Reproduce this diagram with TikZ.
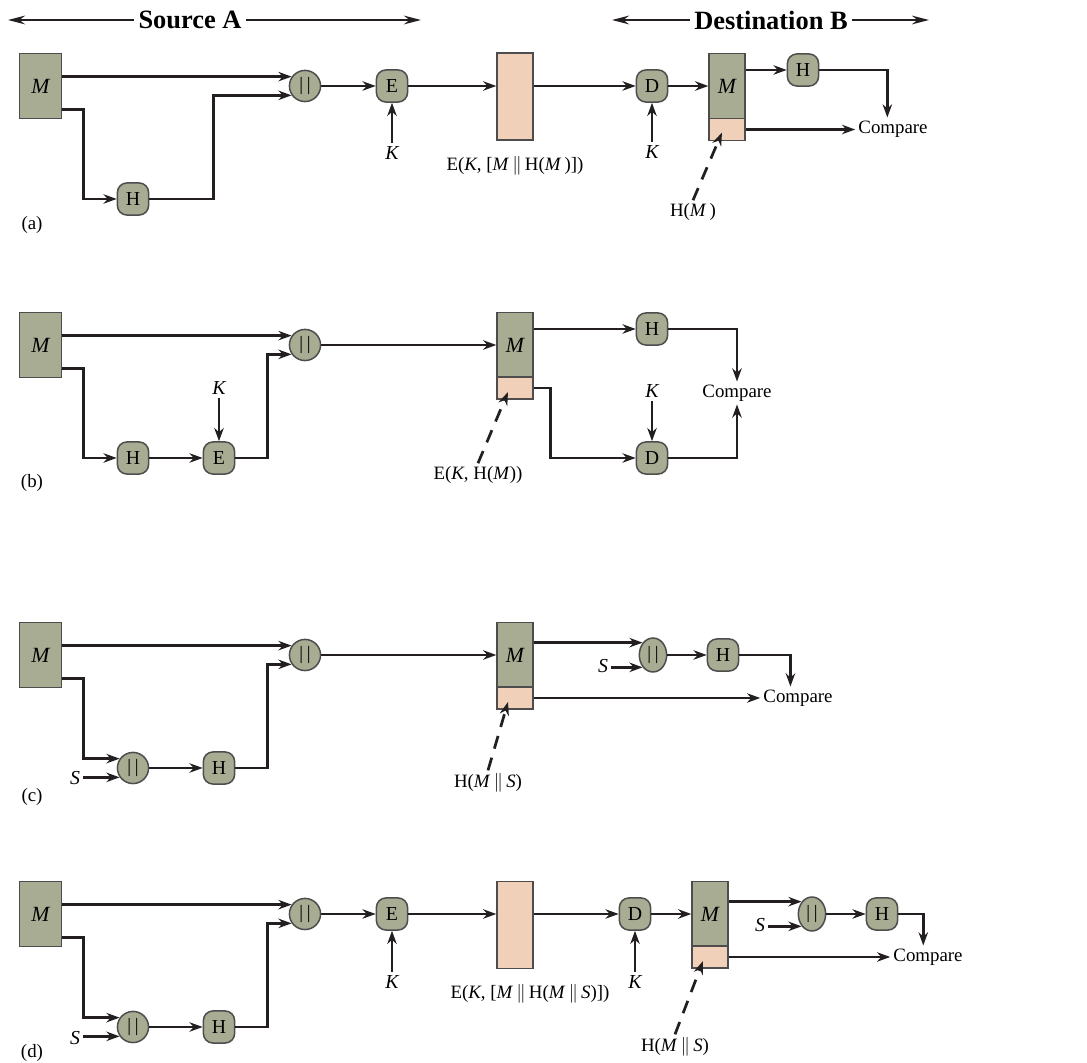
\documentclass[tikz,border=0pt]{standalone}
\usepackage{fontspec}
\setmainfont{Liberation Serif}
\usetikzlibrary{arrows.meta, shapes.geometric}
\definecolor{boxgreen}{RGB}{167,172,146}
\definecolor{peach}{RGB}{240,208,184}
\definecolor{ink}{RGB}{35,31,32}

\begin{document}
\begin{tikzpicture}[x=0.53pt, y=-0.53pt,
    arr/.style={draw=ink, line width=1.45pt, -{Stealth[length=7pt, width=5pt]}},
    dsh/.style={arr, dash pattern=on 7pt off 5pt},
    ttlarr/.style={draw=ink, line width=1.3pt, -{Stealth[length=9pt, width=4.6pt]}},
    ttl/.style={font=\fontsize{14}{16}\selectfont\bfseries, inner sep=2pt},
    lbl/.style={font=\fontsize{10}{12}\selectfont, inner sep=1.5pt},
    lbli/.style={lbl, font=\fontsize{10.5}{12}\selectfont\itshape},
    msg/.style={draw=ink!80, line width=0.8pt, fill=boxgreen, minimum width=22.5pt,
                minimum height=34.5pt, inner sep=0pt, font=\fontsize{11.5}{12}\selectfont\itshape},
    msgB/.style={msg, minimum width=19pt},
    tagB/.style={draw=ink!80, line width=0.8pt, fill=peach, minimum width=19pt,
                 minimum height=11.7pt, inner sep=0pt},
    cipher/.style={tagB, minimum height=46pt},
    fn/.style={draw=ink!80, line width=0.8pt, fill=boxgreen, rounded corners=5pt,
               minimum width=16.5pt, minimum height=17pt, inner sep=0pt,
               font=\fontsize{10.5}{12}\selectfont},
    cat/.style={circle, draw=ink!80, line width=0.8pt, fill=boxgreen, minimum size=16.5pt,
                inner sep=0pt, font=\fontsize{10}{12}\selectfont},
    catB/.style={cat, ellipse, minimum width=14.5pt, minimum height=18pt}]
\useasboundingbox (0,0) rectangle (1087,1063);

% headings
\coordinate (srcL) at (8,20);
\coordinate (srcR) at (421,20);
\coordinate (dstL) at (612,20);
\coordinate (dstR) at (929,20);
\node[ttl] (src) at (190,20) {Source A};
\node[ttl] (dst) at (771,20) {Destination B};
\draw[ttlarr] (src.west) -- (srcL);
\draw[ttlarr] (src.east) -- (srcR);
\draw[ttlarr] (dst.west) -- (dstL);
\draw[ttlarr] (dst.east) -- (dstR);

% (a)
\node[msg] (Ma) at (40.5,86) {M};
\node[cat] (catA) at (305,86) {|\kern2pt|};
\node[fn] (Ha) at (133,199) {H};
\node[fn] (Ea) at (392,86) {E};
\node[lbli] (Ka) at (392,153) {K};
\node[cipher] (Ca) at (515,96.5) {};
\node[lbl] (ECa) at (515,166) {E(\textit{K}, [\textit{M}\,$\|$\,H(\textit{M}\,)])};
\node[fn] (Da) at (652,86) {D};
\node[lbli] (KDa) at (652,152) {K};
\node[msgB] (MBa) at (727,86) {M};
\node[tagB] (TBa) at (727,129.5) {};
\node[fn] (HBa) at (803,70) {H};
\node[lbl] (cmpA) at (893,129) {Compare};
\node[lbl] (HMa) at (693,212) {H(\textit{M}\,)};
\node[lbl] (pa) at (32,225) {(a)};

\draw[arr] (catA.145 -| Ma.east) -- (catA.145);
\draw[arr] ([yshift=5.3pt]Ma.south east) -- ++(21,0) |- (Ha.west);
\draw[arr] (Ha.east) -- ++(64,0) |- (catA.215);
\draw[arr] (catA.east) -- (Ea.west);
\draw[arr] (Ka.north) -- (Ea.south);
\draw[arr] (Ea.east) -- (Ea.east -| Ca.west);
\draw[arr] (Da.west -| Ca.east) -- (Da.west);
\draw[arr] (KDa.north) -- (Da.south);
\draw[arr] (Da.east) -- (MBa.west);
\draw[arr] (HBa.west -| MBa.east) -- (HBa.west);
\draw[arr] (HBa.east) -| ([xshift=-3pt]cmpA.north);
\draw[arr] (TBa.east) -- (TBa.east -| cmpA.west);
\draw[dsh] (HMa.north) -- ([shift={(-5,3)}]TBa.center);

% (b)
\node[msg] (Mb) at (40.5,345) {M};
\node[cat] (catb) at (305,345) {|\kern2pt|};
\node[fn] (Hb) at (133,458) {H};
\node[fn] (Eb) at (219,458) {E};
\node[lbli] (Kb) at (219,388) {K};
\node[msgB] (MBb) at (515,345) {M};
\node[tagB] (TBb) at (515,388) {};
\node[fn] (HBb) at (652,329) {H};
\node[fn] (Db) at (652,458) {D};
\node[lbli] (KDb) at (652,391) {K};
\node[lbl] (cmpb) at (737,393) {Compare};
\node[lbl] (EHb) at (478,475) {E(\textit{K}, H(\textit{M}))};
\node[lbl] (pb) at (32,483) {(b)};

\draw[arr] (catb.145 -| Mb.east) -- (catb.145);
\draw[arr] ([yshift=5.3pt]Mb.south east) -- ++(21,0) |- (Hb.west);
\draw[arr] (Hb.east) -- (Eb.west);
\draw[arr] (Kb.south) -- (Eb.north);
\draw[arr] (Eb.east) -- ++(32,0) |- (catb.215);
\draw[arr] (catb.east) -- (MBb.west);
\draw[arr] (HBb.west -| MBb.east) -- (HBb.west);
\draw[arr] (HBb.east) -| (cmpb.north);
\draw[arr] (TBb.east) -- ++(17,0) |- (Db.west);
\draw[arr] (KDb.south) -- (Db.north);
\draw[arr] (Db.east) -| (cmpb.south);
\draw[dsh] (EHb.north) -- ([shift={(-7,4)}]TBb.center);

% (c)
\node[msg] (Mc) at (40.5,655) {M};
\node[cat] (catc) at (305,655) {|\kern2pt|};
\node[cat] (cat2c) at (133,768) {|\kern2pt|};
\node[lbli] (Sc) at (75,778) {S};
\node[fn] (Hc) at (219,768) {H};
\node[msgB] (MBc) at (515,655) {M};
\node[tagB] (TBc) at (515,698) {};
\node[catB] (cat3c) at (653,655) {|\kern2pt|};
\node[lbli] (SBc) at (603,666) {S};
\node[fn] (HBc) at (723,655) {H};
\node[lbl] (cmpc) at (798,698) {Compare};
\node[lbl] (HMc) at (488,783) {H(\textit{M}\,$\|$\,\textit{S})};
\node[lbl] (pc) at (32,797) {(c)};

\draw[arr] (catc.145 -| Mc.east) -- (catc.145);
\draw[arr] ([yshift=5.3pt]Mc.south east) -- ++(21,0) |- (cat2c.145);
\draw[arr] (cat2c.215 -| Sc.east) -- (cat2c.215);
\draw[arr] (cat2c.east) -- (Hc.west);
\draw[arr] (Hc.east) -- ++(32,0) |- (catc.215);
\draw[arr] (catc.east) -- (MBc.west);
\draw[arr] (cat3c.130 -| MBc.east) -- (cat3c.130);
\draw[arr] (cat3c.230 -| SBc.east) -- (cat3c.230);
\draw[arr] (cat3c.east) -- (HBc.west);
\draw[arr] (HBc.east) -| ([xshift=-4pt]cmpc.north);
\draw[arr] (TBc.east) -- (TBc.east -| cmpc.west);
\draw[dsh] (HMc.north) -- ([shift={(-7,4)}]TBc.center);

% (d)
\node[msg] (Md) at (40.5,914) {M};
\node[cat] (catd) at (305,914) {|\kern2pt|};
\node[cat] (cat2d) at (133,1027) {|\kern2pt|};
\node[lbli] (Sd) at (75,1038) {S};
\node[fn] (Hd) at (219,1027) {H};
\node[fn] (Ed) at (392,914) {E};
\node[lbli] (Kd) at (392,982) {K};
\node[cipher] (Cd) at (515,925) {};
\node[lbl] (ECd) at (530,994) {E(\textit{K}, [\textit{M}\,$\|$\,H(\textit{M}\,$\|$\,\textit{S})])};
\node[fn] (Dd) at (635,914) {D};
\node[lbli] (KDd) at (635,982) {K};
\node[msgB] (MBd) at (710,914) {M};
\node[tagB] (TBd) at (710,957) {};
\node[catB] (cat3d) at (812,914) {|\kern2pt|};
\node[lbli] (SBd) at (760,925) {S};
\node[fn] (HBd) at (882,914) {H};
\node[lbl] (cmpd) at (928,957) {Compare};
\node[lbl] (HMd) at (675,1047) {H(\textit{M}\,$\|$\,\textit{S})};
\node[lbl] (pd) at (32,1053) {(d)};

\draw[arr] (catd.145 -| Md.east) -- (catd.145);
\draw[arr] ([yshift=5.3pt]Md.south east) -- ++(21,0) |- (cat2d.145);
\draw[arr] (cat2d.215 -| Sd.east) -- (cat2d.215);
\draw[arr] (cat2d.east) -- (Hd.west);
\draw[arr] (Hd.east) -- ++(32,0) |- (catd.215);
\draw[arr] (catd.east) -- (Ed.west);
\draw[arr] (Kd.north) -- (Ed.south);
\draw[arr] (Ed.east) -- (Ed.east -| Cd.west);
\draw[arr] (Dd.west -| Cd.east) -- (Dd.west);
\draw[arr] (KDd.north) -- (Dd.south);
\draw[arr] (Dd.east) -- (MBd.west);
\draw[arr] (cat3d.130 -| MBd.east) -- (cat3d.130);
\draw[arr] (cat3d.230 -| SBd.east) -- (cat3d.230);
\draw[arr] (cat3d.east) -- (HBd.west);
\draw[arr] (HBd.east) -| ([xshift=-2.5pt]cmpd.north);
\draw[arr] (TBd.east) -- (TBd.east -| cmpd.west);
\draw[dsh] (HMd.north) -- ([shift={(-7,4)}]TBd.center);
\end{tikzpicture}
\end{document}
